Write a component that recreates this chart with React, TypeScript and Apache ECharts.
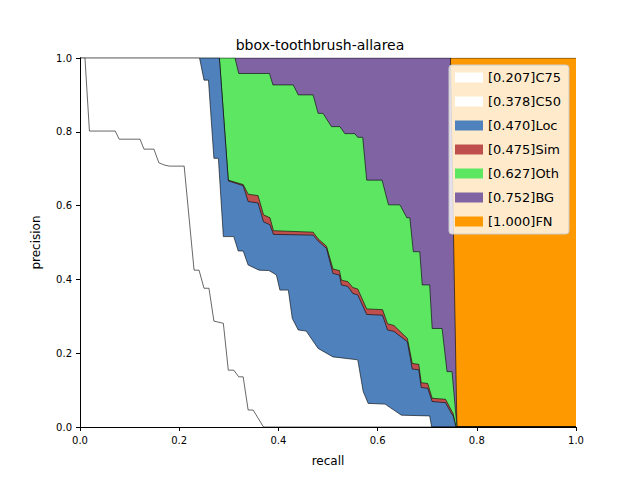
import React, { useEffect, useRef } from 'react';
import * as echarts from 'echarts';

const seriesNames = ['[0.207]C75', '[0.378]C50', '[0.470]Loc', '[0.475]Sim', '[0.627]Oth', '[0.752]BG', '[1.000]FN'];
const seriesColors = ['#ffffff', '#ffffff', 'rgb(79,130,189)', 'rgb(191,79,77)', 'rgb(92,230,97)', 'rgb(128,99,163)', 'rgb(255,153,0)'];

// [recall, precision] points
const c75: number[][] = [
  [0, 1], [0.01, 1], [0.019, 0.802], [0.071, 0.802], [0.079, 0.78], [0.121, 0.78], [0.129, 0.753], [0.149, 0.753],
  [0.159, 0.716], [0.17, 0.71], [0.18, 0.707], [0.21, 0.707], [0.23, 0.425], [0.24, 0.425], [0.25, 0.376], [0.26, 0.376],
  [0.27, 0.287], [0.289, 0.281], [0.299, 0.154], [0.31, 0.154], [0.32, 0.136], [0.329, 0.136], [0.339, 0.046],
  [0.349, 0.046], [0.37, 0], [1, 0],
];
const c50: number[][] = [
  [0, 1], [0.241, 1], [0.25, 0.94], [0.259, 0.94], [0.27, 0.728], [0.279, 0.728], [0.289, 0.516], [0.31, 0.516],
  [0.319, 0.477], [0.329, 0.477], [0.339, 0.439], [0.361, 0.425], [0.381, 0.424], [0.396, 0.412], [0.403, 0.371],
  [0.42, 0.371], [0.428, 0.294], [0.44, 0.263], [0.456, 0.26], [0.48, 0.213], [0.51, 0.19], [0.56, 0.182],
  [0.571, 0.096], [0.581, 0.064], [0.615, 0.062], [0.648, 0.032], [0.705, 0.03], [0.709, 0], [1, 0],
];
const loc: number[][] = [
  [0, 1], [0.281, 1], [0.299, 0.667], [0.329, 0.654], [0.339, 0.611], [0.359, 0.607], [0.37, 0.556], [0.383, 0.548],
  [0.39, 0.522], [0.47, 0.52], [0.48, 0.504], [0.497, 0.484], [0.51, 0.416], [0.523, 0.412], [0.527, 0.385],
  [0.54, 0.381], [0.55, 0.362], [0.56, 0.358], [0.578, 0.305], [0.61, 0.303], [0.62, 0.263], [0.633, 0.259],
  [0.66, 0.231], [0.67, 0.157], [0.683, 0.155], [0.688, 0.107], [0.701, 0.105], [0.71, 0.069], [0.737, 0.066],
  [0.75, 0.034], [0.752, 0.032], [0.758, 0], [1, 0],
];
const sim: number[][] = [
  [0, 1], [0.281, 1], [0.299, 0.669], [0.329, 0.657], [0.339, 0.631], [0.359, 0.627], [0.37, 0.575], [0.383, 0.567],
  [0.39, 0.532], [0.47, 0.528], [0.48, 0.51], [0.497, 0.49], [0.51, 0.428], [0.523, 0.424], [0.527, 0.398],
  [0.54, 0.394], [0.55, 0.378], [0.56, 0.374], [0.578, 0.32], [0.61, 0.318], [0.62, 0.28], [0.633, 0.275],
  [0.66, 0.24], [0.67, 0.172], [0.683, 0.17], [0.688, 0.12], [0.701, 0.118], [0.71, 0.078], [0.737, 0.075],
  [0.75, 0.042], [0.752, 0.038], [0.758, 0], [1, 0],
];
const oth: number[][] = [
  [0, 1], [0.3125, 1], [0.32, 0.958], [0.382, 0.958], [0.389, 0.927], [0.43, 0.927], [0.44, 0.9], [0.47, 0.9],
  [0.48, 0.85], [0.49, 0.85], [0.507, 0.814], [0.524, 0.814], [0.534, 0.795], [0.554, 0.795], [0.56, 0.785],
  [0.57, 0.785], [0.578, 0.669], [0.609, 0.669], [0.622, 0.602], [0.645, 0.602], [0.659, 0.567], [0.665, 0.567],
  [0.672, 0.475], [0.685, 0.475], [0.69, 0.385], [0.705, 0.385], [0.71, 0.267], [0.73, 0.267], [0.74, 0.15],
  [0.75, 0.15], [0.76, 0], [1, 0],
];
const bg: number[][] = [
  [0, 1], [0.747, 1], [0.752, 0.6], [0.756, 0.3], [0.76, 0], [1, 0],
];
const fn: number[][] = [
  [0, 1], [1, 1],
];
const curves = [c75, c50, loc, sim, oth, bg, fn];

const axisFont = { fontFamily: 'DejaVu Sans', fontSize: 10, color: '#000' };

export default function App() {
  const chartRef = useRef<HTMLDivElement>(null);

  useEffect(() => {
    if (!chartRef.current) return;
    const chart = echarts.init(chartRef.current, null, { renderer: 'svg' });

    // outer curves first so the inner ones paint over them
    const series = curves
      .map((pts, i) => ({
        name: seriesNames[i],
        type: 'line' as const,
        data: pts,
        symbol: 'none',
        z: 10 - i,
        lineStyle: { color: '#000', width: 0.6 },
        itemStyle: { color: seriesColors[i] },
        areaStyle: { color: seriesColors[i], opacity: 1 },
      }))
      .reverse();

    const axisCommon = {
      type: 'value' as const,
      min: 0,
      max: 1,
      interval: 0.2,
      z: 20,
      splitLine: { show: false },
      axisLine: { show: true, lineStyle: { color: '#000', width: 1 } },
      axisTick: { show: true, length: 4, lineStyle: { color: '#000' } },
    };

    chart.setOption({
      animation: false,
      backgroundColor: '#fff',
      title: {
        text: 'bbox-toothbrush-allarea',
        left: 'center',
        top: 33,
        textStyle: { fontFamily: 'DejaVu Sans', fontSize: 14, fontWeight: 'normal', color: '#000' },
      },
      grid: { left: 80, right: 64, top: 58, bottom: 53 },
      legend: {
        data: seriesNames,
        orient: 'vertical',
        right: 71,
        top: 65,
        z: 30,
        itemWidth: 28,
        itemHeight: 10,
        itemGap: 11,
        padding: [6, 8, 6, 6],
        icon: 'rect',
        backgroundColor: 'rgba(255,255,255,0.8)',
        borderColor: '#ccc',
        borderWidth: 1,
        borderRadius: 3,
        itemStyle: { borderWidth: 0 },
        lineStyle: { width: 0 },
        textStyle: { fontFamily: 'DejaVu Sans', fontSize: 13, color: '#000' },
      },
      xAxis: [
        {
          ...axisCommon,
          name: 'recall',
          nameLocation: 'middle',
          nameGap: 28,
          nameTextStyle: { fontFamily: 'DejaVu Sans', fontSize: 12, color: '#000' },
          axisLabel: { ...axisFont, formatter: (v: number) => v.toFixed(1) },
        },
        { ...axisCommon, position: 'top', axisTick: { show: false }, axisLabel: { show: false } },
      ],
      yAxis: [
        {
          ...axisCommon,
          name: 'precision',
          nameLocation: 'middle',
          nameGap: 38,
          nameTextStyle: { fontFamily: 'DejaVu Sans', fontSize: 12, color: '#000' },
          axisLabel: { ...axisFont, formatter: (v: number) => v.toFixed(1) },
        },
        { ...axisCommon, position: 'right', axisTick: { show: false }, axisLabel: { show: false } },
      ],
      series,
    });

    return () => {
      chart.dispose();
    };
  }, []);

  return <div ref={chartRef} style={{ width: 640, height: 480, margin: -8 }} />;
}
